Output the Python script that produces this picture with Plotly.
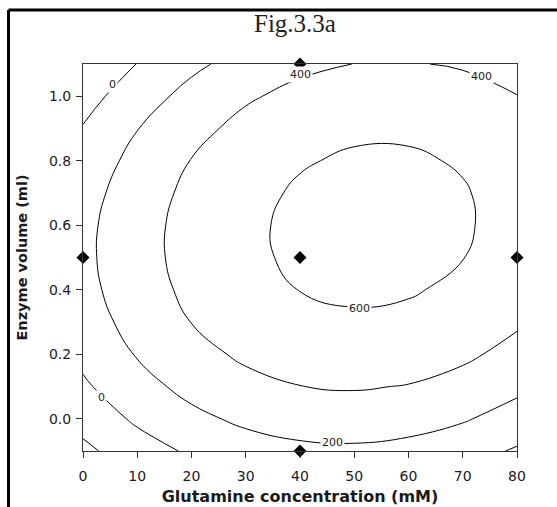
import plotly.graph_objects as go

# Glutamine concentration (mM) grid
x_vals = [0, 10, 20, 30, 40, 50, 60, 70, 80]
# Enzyme volume (ml) grid
y_vals = [-0.1, 0.0, 0.1, 0.2, 0.3, 0.4, 0.5, 0.6, 0.7, 0.8, 0.9, 1.0, 1.1]
# response estimated from the contour picture (rows follow y_vals)
z_vals = [
    [-245, -90, 29, 112, 158, 168, 141, 79, -21],
    [-127, 32, 153, 239, 288, 301, 278, 218, 121],
    [-29, 132, 257, 346, 398, 414, 393, 336, 243],
    [48, 212, 340, 432, 487, 505, 488, 434, 343],
    [105, 272, 403, 497, 555, 577, 562, 511, 423],
    [141, 311, 444, 542, 603, 627, 615, 567, 482],
    [156, 329, 466, 566, 630, 657, 648, 603, 521],
    [151, 327, 466, 569, 636, 666, 660, 618, 539],
    [125, 303, 446, 552, 621, 655, 652, 612, 536],
    [78, 260, 405, 514, 586, 623, 622, 586, 513],
    [11, 195, 343, 455, 531, 570, 573, 539, 469],
    [-77, 110, 261, 376, 454, 496, 502, 471, 404],
    [-186, 4, 158, 276, 357, 402, 411, 383, 319],
]
# design points
pt_x = [0, 40, 80, 40, 40]
pt_y = [0.5, 0.5, 0.5, -0.1, 1.1]
# contour labels (text, x, y)
lab_text = ["0", "0", "200", "400", "400", "600"]
lab_x = [5.5, 3.5, 46, 40, 73.5, 51]
lab_y = [1.036, 0.067, -0.075, 1.068, 1.06, 0.343]

x_ticks = [0, 10, 20, 30, 40, 50, 60, 70, 80]
y_ticks = [0.0, 0.2, 0.4, 0.6, 0.8, 1.0]

fig = go.Figure()
fig.add_trace(go.Contour(
    x=x_vals, y=y_vals, z=z_vals,
    contours=dict(start=-200, end=600, size=200, coloring="none", showlabels=False),
    line=dict(color="black", width=1, smoothing=1.3),
    showscale=False, hoverinfo="skip",
))
fig.add_trace(go.Scatter(
    x=pt_x, y=pt_y, mode="markers", cliponaxis=False,
    marker=dict(symbol="diamond", size=10, color="black"), hoverinfo="skip",
))
for t, lx, ly in zip(lab_text, lab_x, lab_y):
    fig.add_annotation(x=lx, y=ly, text=t, showarrow=False, bgcolor="white", borderpad=1,
                       font=dict(family="DejaVu Sans", size=11, color="#1a1a1a"))

axis_common = dict(showgrid=False, zeroline=False, showline=True, mirror=True, automargin=False,
                   linecolor="#333333", linewidth=1, ticks="outside", ticklen=6,
                   tickcolor="#333333", tickfont=dict(family="DejaVu Sans", size=14, color="#1a1a1a"))
fig.update_xaxes(range=[0, 80], tickvals=x_ticks, ticklabelstandoff=6,
                 title=dict(text="<b>Glutamine concentration (mM)</b>", standoff=8,
                            font=dict(family="DejaVu Sans", size=16, color="#1a1a1a")),
                 **axis_common)
fig.update_yaxes(range=[-0.1, 1.1], tickvals=y_ticks, tickformat=".1f", ticklabelstandoff=2,
                 title=dict(text="<b>Enzyme volume (ml)</b>", standoff=17,
                            font=dict(family="DejaVu Sans", size=14.5, color="#1a1a1a")),
                 **axis_common)
fig.update_layout(
    width=557, height=507,
    margin=dict(l=83, r=40, t=64, b=56),
    plot_bgcolor="white", paper_bgcolor="white", showlegend=False,
    title=dict(text="Fig.3.3a", x=(295 - 83) / 434, xref="paper", xanchor="center",
               y=1 - 23 / 507, yref="container", yanchor="middle",
               font=dict(family="Liberation Serif", size=25, color="#222222")),
    shapes=[
        dict(type="line", xref="paper", yref="paper", x0=(8.5 - 83) / 434, x1=(560 - 83) / 434,
             y0=(451 - 10) / 387, y1=(451 - 10) / 387, line=dict(color="black", width=3)),
        dict(type="line", xref="paper", yref="paper", x0=(8.5 - 83) / 434, x1=(8.5 - 83) / 434,
             y0=(451 - 10) / 387, y1=(451 - 510) / 387, line=dict(color="black", width=3)),
    ],
)
fig.write_html("out.html", config={"displayModeBar": False},
               post_script="document.body.style.margin='0';")
